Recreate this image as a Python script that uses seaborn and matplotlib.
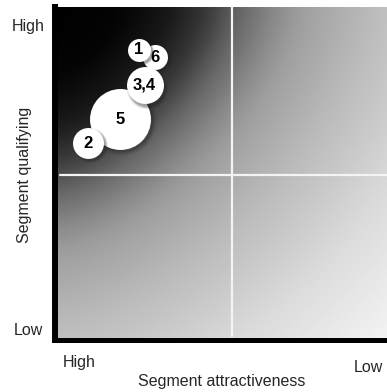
import numpy as np
import pandas as pd
import matplotlib
matplotlib.use("Agg")
import matplotlib.pyplot as plt
import matplotlib.transforms as mtransforms
import seaborn as sns

# Segments in drawing order (back to front)
segments = ["5", "2", "6", "3,4", "1"]
attractiveness = [19.7, 9.8, 30.0, 27.0, 25.2]
qualifying = [66.3, 59.0, 84.9, 76.4, 87.2]
segment_size = [930, 240, 156, 342, 132]

x_tick_labels = ["High", "Low"]
y_tick_labels = ["High", "Low"]
x_label = "Segment attractiveness"
y_label = "Segment qualifying"

df = pd.DataFrame({"segment": segments, "x": attractiveness,
                   "y": qualifying, "size": segment_size})

sns.set_theme(style="white")
plt.rcParams["font.family"] = ["Liberation Sans", "DejaVu Sans"]

fig = plt.figure(figsize=(3.87, 3.92), dpi=100)
ax = fig.add_axes([55 / 387, 52.5 / 392, 332 / 387, 332.5 / 392])
ax.set_xlim(0, 100)
ax.set_ylim(0, 100)

# Grey background gradient, black in the top-left corner
n = 400
u, v = np.meshgrid(np.linspace(0, 1, n), np.linspace(0, 1, n))
d = (u ** 1.5 + v ** 1.5) ** (1 / 1.5)
lut_d = np.linspace(0, 1.6, 321)
lut_v = np.interp(lut_d, [0, 0.2, 0.35, 0.46, 0.55, 0.67, 0.75, 0.95, 1.25, 1.6],
                  [0, 4, 25, 57, 100, 140, 160, 186, 218, 245])
kernel = np.ones(15) / 15
lut_v = np.convolve(np.pad(lut_v, 7, mode="edge"), kernel, mode="valid")
shade = np.interp(d, lut_d, lut_v) / 255.0
ax.imshow(shade, cmap="gray", vmin=0, vmax=1, extent=(0, 100, 0, 100),
          origin="upper", aspect="auto", zorder=0, interpolation="bilinear")

# Quadrant dividers
ax.axvline(53.3, ymin=0.01, ymax=1, color="#f4f4f4", lw=1.6, zorder=1)
ax.axhline(49.6, xmin=0.015, xmax=1, color="#f4f4f4", lw=1.6, zorder=1)

size_norm = (0, 930)
size_range = (0, 930 * 2.07)
shadow_offset = mtransforms.ScaledTranslation(1.5 / 72, -1.5 / 72, fig.dpi_scale_trans)

for i, row in df.iterrows():
    sub = df.iloc[[i]]
    # soft drop shadow
    for grow, alpha in [(1.25, 0.10), (1.12, 0.15), (1.03, 0.22)]:
        sns.scatterplot(data=sub, x="x", y="y", size="size",
                        sizes=(0, size_range[1] * grow), size_norm=size_norm,
                        color="#202020", alpha=alpha, linewidth=0,
                        legend=False, ax=ax, zorder=2 + i * 3)
        coll = ax.collections[-1]
        coll.set_offset_transform(ax.transData + shadow_offset)
    sns.scatterplot(data=sub, x="x", y="y", size="size",
                    sizes=size_range, size_norm=size_norm,
                    color="white", linewidth=0, alpha=1,
                    legend=False, ax=ax, zorder=3 + i * 3)
    ax.text(row["x"], row["y"], row["segment"], ha="center", va="center",
            fontsize=12, fontweight="bold", color="black", zorder=4 + i * 3)

# Axes frame: heavy black left and bottom lines only
for side in ["top", "right"]:
    ax.spines[side].set_visible(False)
ax.spines["left"].set_linewidth(4.3)
ax.spines["bottom"].set_linewidth(3.6)
ax.spines["left"].set_color("black")
ax.spines["bottom"].set_color("black")
ax.spines["left"].set_zorder(30)
ax.spines["bottom"].set_zorder(30)
ax.set_xticks([])
ax.set_yticks([])
ax.set_xlabel("")
ax.set_ylabel("")

fs = 11.5
ax.text(0.072, -0.069, x_tick_labels[0], transform=ax.transAxes,
        ha="center", va="center", fontsize=fs)
ax.text(0.943, -0.084, x_tick_labels[1], transform=ax.transAxes,
        ha="center", va="center", fontsize=fs)
ax.text(-0.032, 0.94, y_tick_labels[0], transform=ax.transAxes,
        ha="right", va="center", fontsize=fs)
ax.text(-0.036, 0.027, y_tick_labels[1], transform=ax.transAxes,
        ha="right", va="center", fontsize=fs)
ax.text(0.503, -0.127, x_label, transform=ax.transAxes,
        ha="center", va="center", fontsize=fs)
ax.text(-0.091, 0.494, y_label, transform=ax.transAxes, rotation=90,
        ha="center", va="center", fontsize=fs)

fig.savefig("out.png", dpi=100)
